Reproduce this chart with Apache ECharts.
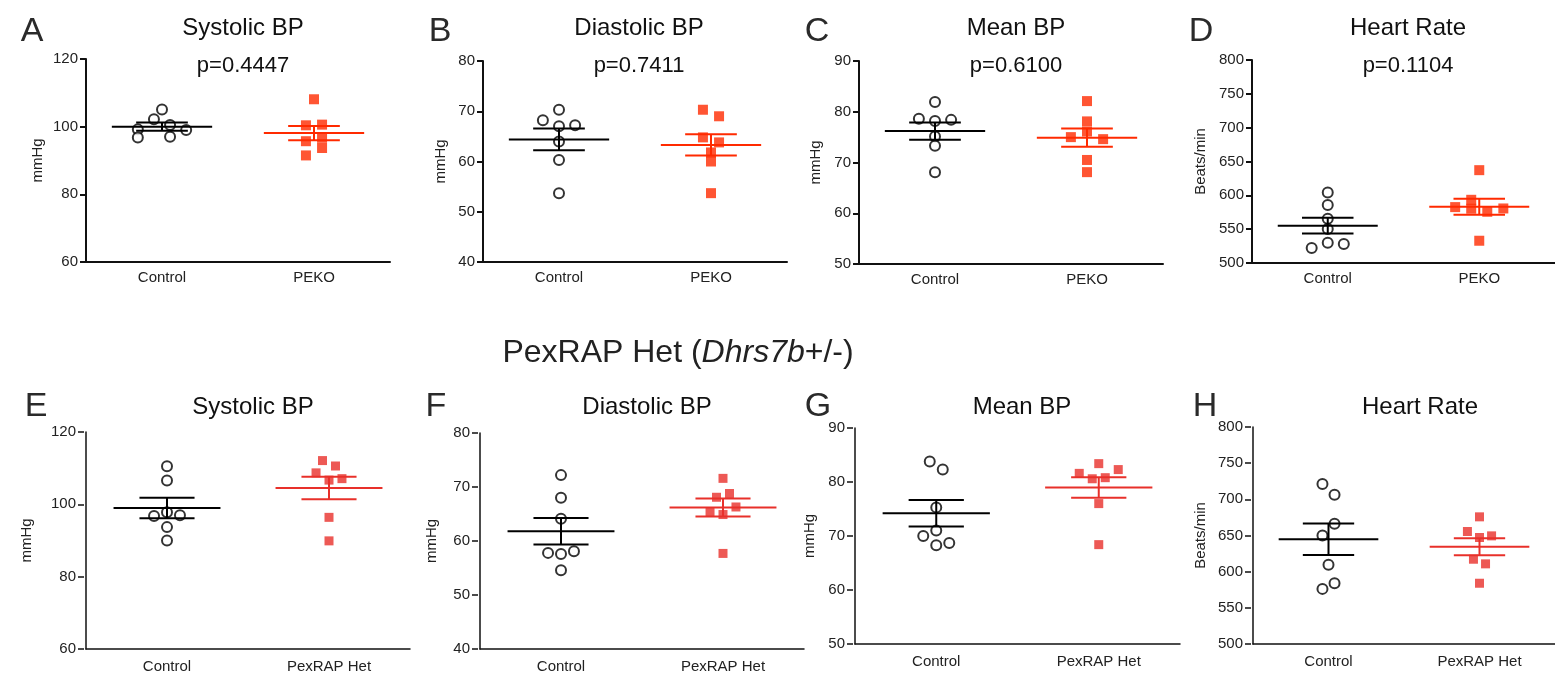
<!DOCTYPE html>
<html>
<head>
<meta charset="utf-8">
<title>Blood pressure - PEKO and PexRAP Het</title>
<script src="https://cdn.jsdelivr.net/npm/echarts@6/dist/echarts.min.js"></script>
<style>
  html, body { margin: 0; padding: 0; background: #fff; }
  #main { width: 1555px; height: 678px; }
</style>
</head>
<body>
<div id="main"></div>
<script>
  // x groups
  var topGroups = ['Control', 'PEKO'];
  var bottomGroups = ['Control', 'PexRAP Het'];

  // A - Systolic BP (PEKO)
  var ctrlA = [105.1, 102.2, 100.5, 99.2, 99.0, 96.8, 97.0];
  var koA = [108.1, 100.4, 100.6, 95.7, 96.7, 93.7, 91.5];
  var meanA = [100.0, 98.1];
  var semA = [1.2, 2.1];
  // B - Diastolic BP (PEKO)
  var ctrlB = [70.3, 68.2, 67.0, 67.2, 64.0, 60.3, 53.7];
  var koB = [70.3, 69.0, 64.8, 63.8, 61.8, 60.0, 53.7];
  var meanB = [64.4, 63.3];
  var semB = [2.15, 2.1];
  // C - Mean BP (PEKO)
  var ctrlC = [81.9, 78.6, 78.2, 78.4, 75.1, 73.3, 68.1];
  var koC = [82.1, 78.1, 76.1, 75.0, 74.6, 70.5, 68.1];
  var meanC = [76.2, 74.9];
  var semC = [1.7, 1.8];
  // D - Heart rate (PEKO)
  var ctrlD = [604.3, 585.6, 565.4, 550.2, 530.0, 528.0, 522.1];
  var koD = [637.2, 593.4, 582.6, 580.2, 580.6, 575.7, 532.9];
  var meanD = [555.1, 583.2];
  var semD = [11.6, 11.8];
  // E - Systolic BP (PexRAP Het)
  var ctrlE = [110.5, 106.6, 97.8, 96.8, 97.0, 93.7, 90.0];
  var hetE = [112.1, 110.6, 108.7, 106.7, 107.1, 96.4, 89.9];
  var meanE = [99.0, 104.5];
  var semE = [2.85, 3.1];
  // F - Diastolic BP (PexRAP Het)
  var ctrlF = [72.2, 68.0, 64.1, 57.8, 57.6, 58.1, 54.6];
  var hetF = [71.6, 68.8, 68.1, 66.3, 65.4, 64.9, 57.7];
  var meanF = [61.8, 66.2];
  var semF = [2.45, 1.65];
  // G - Mean BP (PexRAP Het)
  var ctrlG = [83.8, 82.3, 75.3, 71.0, 70.0, 68.3, 68.7];
  var hetG = [83.4, 82.3, 81.6, 80.6, 80.8, 76.0, 68.4];
  var meanG = [74.2, 79.0];
  var semG = [2.45, 1.9];
  // H - Heart rate (PexRAP Het)
  var ctrlH = [721.1, 706.3, 666.2, 650.0, 609.4, 584.0, 576.2];
  var hetH = [675.8, 655.5, 647.2, 649.5, 617.2, 610.8, 584.0];
  var meanH = [644.9, 634.3];
  var semH = [21.7, 11.75];

  // sideways jitter slot of each dot (scatter-dot-plot style)
  var jitCtrlA = [0, -1, 1, -3, 3, -3, 1];
  var jitKoA = [0, -1, 1, -1, 1, 1, -1];
  var jitCtrlB = [0, -2, 0, 2, 0, 0, 0];
  var jitKoB = [-1, 1, -1, 1, 0, 0, 0];
  var jitCtrlC = [0, -2, 0, 2, 0, 0, 0];
  var jitKoC = [0, 0, 0, -2, 2, 0, 0];
  var jitCtrlD = [0, 0, 0, 0, 0, 2, -2];
  var jitKoD = [0, -1, -3, -1, 3, 1, 0];
  var jitCtrlE = [0, 0, 0, -2, 2, 0, 0];
  var jitHetE = [-1, 1, -2, 0, 2, 0, 0];
  var jitCtrlF = [0, 0, 0, -2, 0, 2, 0];
  var jitHetF = [0, 1, -1, 2, -2, 0, 0];
  var jitCtrlG = [-1, 1, 0, 0, -2, 0, 2];
  var jitHetG = [0, 3, -3, -1, 1, 0, 0];
  var jitCtrlH = [-1, 1, 1, -1, 0, 1, -1];
  var jitHetH = [0, -2, 0, 2, -1, 1, 0];

  var FONT = '"Liberation Sans", Arial, sans-serif';

  var panels = [
    {letter: 'A', title: 'Systolic BP', p: 'p=0.4447', unit: 'mmHg', groups: topGroups, ctrl: ctrlA, test: koA, jc: jitCtrlA, jt: jitKoA, mean: meanA, sem: semA, min: 60, max: 120, step: 20},
    {letter: 'B', title: 'Diastolic BP', p: 'p=0.7411', unit: 'mmHg', groups: topGroups, ctrl: ctrlB, test: koB, jc: jitCtrlB, jt: jitKoB, mean: meanB, sem: semB, min: 40, max: 80, step: 10},
    {letter: 'C', title: 'Mean BP', p: 'p=0.6100', unit: 'mmHg', groups: topGroups, ctrl: ctrlC, test: koC, jc: jitCtrlC, jt: jitKoC, mean: meanC, sem: semC, min: 50, max: 90, step: 10},
    {letter: 'D', title: 'Heart Rate', p: 'p=0.1104', unit: 'Beats/min', groups: topGroups, ctrl: ctrlD, test: koD, jc: jitCtrlD, jt: jitKoD, mean: meanD, sem: semD, min: 500, max: 800, step: 50},
    {letter: 'E', title: 'Systolic BP', p: '', unit: 'mmHg', groups: bottomGroups, ctrl: ctrlE, test: hetE, jc: jitCtrlE, jt: jitHetE, mean: meanE, sem: semE, min: 60, max: 120, step: 20},
    {letter: 'F', title: 'Diastolic BP', p: '', unit: 'mmHg', groups: bottomGroups, ctrl: ctrlF, test: hetF, jc: jitCtrlF, jt: jitHetF, mean: meanF, sem: semF, min: 40, max: 80, step: 10},
    {letter: 'G', title: 'Mean BP', p: '', unit: 'mmHg', groups: bottomGroups, ctrl: ctrlG, test: hetG, jc: jitCtrlG, jt: jitHetG, mean: meanG, sem: semG, min: 50, max: 90, step: 10},
    {letter: 'H', title: 'Heart Rate', p: '', unit: 'Beats/min', groups: bottomGroups, ctrl: ctrlH, test: hetH, jc: jitCtrlH, jt: jitHetH, mean: meanH, sem: semH, min: 500, max: 800, step: 50}
  ];

  // plot boxes [left, top, width, height], name gap, letter x, title x
  var layout = [
    {box: [86, 59, 304, 203], gap: 41, lx: 27, tx: 238},
    {box: [483, 61, 304, 201], gap: 35, lx: 435, tx: 634},
    {box: [859, 61, 304, 203], gap: 36, lx: 812, tx: 1011},
    {box: [1252, 60, 304, 203], gap: 44, lx: 1196, tx: 1403},
    {box: [86, 432, 324, 217], gap: 52, lx: 31, tx: 248},
    {box: [480, 433, 324, 216], gap: 41, lx: 431, tx: 642},
    {box: [855, 428, 325, 216], gap: 38, lx: 813, tx: 1017},
    {box: [1253, 427, 324, 217], gap: 45, lx: 1200, tx: 1415}
  ];

  function initChart() {
    var myChart = echarts.init(document.getElementById('main'));
    myChart.setOption(getChartOption());
  }

  function getChartOption() {
    var grids = [], xAxes = [], yAxes = [], series = [], titles = [];

    panels.forEach(function (pn, i) {
      var lay = layout[i];
      var bottom = i >= 4;
      var red = bottom ? '#e8302a' : '#ff2a00';
      var step = bottom ? 0.04 : 0.053;
      var tickStyle = bottom ? {color: '#111', width: 1.5, type: [0, 2, 6, 30]} : {color: '#111', width: 2};

      grids.push({left: lay.box[0], top: lay.box[1], width: lay.box[2], height: lay.box[3], containLabel: false});

      // category axis for labels and ticks
      xAxes.push({
        type: 'category', gridIndex: i, data: pn.groups, boundaryGap: true,
        axisLine: {lineStyle: {color: '#111', width: bottom ? 1.5 : 2}},
        axisTick: {alignWithLabel: true, length: bottom ? 8 : 6, lineStyle: tickStyle},
        axisLabel: {color: '#222', fontSize: 15, fontFamily: FONT, margin: bottom ? 10 : 8}
      });
      // hidden value axis that places the dots (group 1 and 2)
      xAxes.push({type: 'value', gridIndex: i, min: 0.5, max: 2.5, show: false});

      yAxes.push({
        type: 'value', gridIndex: i, min: pn.min, max: pn.max, interval: pn.step,
        name: pn.unit, nameLocation: 'middle', nameGap: lay.gap,
        nameTextStyle: {color: '#222', fontSize: 15, fontFamily: FONT},
        axisLine: {show: true, lineStyle: {color: '#111', width: bottom ? 1.5 : 2}},
        axisTick: {show: true, length: bottom ? 8 : 6, lineStyle: tickStyle},
        axisLabel: {color: '#222', fontSize: 15, fontFamily: FONT, margin: bottom ? 10 : 8},
        splitLine: {show: false}
      });

      var ctrlPts = pn.ctrl.map(function (v, k) { return [1 + pn.jc[k] * step, v]; });
      var testPts = pn.test.map(function (v, k) { return [2 + pn.jt[k] * step, v]; });

      series.push({
        type: 'scatter', xAxisIndex: 2 * i + 1, yAxisIndex: i,
        symbol: 'circle', symbolSize: 10, data: ctrlPts, z: 2,
        itemStyle: {color: '#fff', borderColor: '#000', borderWidth: 2}
      });
      series.push({
        type: 'scatter', xAxisIndex: 2 * i + 1, yAxisIndex: i,
        symbol: 'rect', symbolSize: bottom ? 9 : 10, data: testPts, z: 2,
        itemStyle: {color: red}
      });

      // mean line with SEM whiskers
      series.push({
        type: 'custom', xAxisIndex: 2 * i + 1, yAxisIndex: i, z: 3,
        data: [[1, pn.mean[0], pn.sem[0], 0], [2, pn.mean[1], pn.sem[1], 1]],
        renderItem: function (params, api) {
          var x = api.value(0), m = api.value(1), s = api.value(2);
          var col = api.value(3) === 0 ? '#000' : red;
          var pm0 = api.coord([x - 0.33, m]), pm1 = api.coord([x + 0.33, m]);
          var hi0 = api.coord([x - 0.17, m + s]), hi1 = api.coord([x + 0.17, m + s]);
          var lo0 = api.coord([x - 0.17, m - s]), lo1 = api.coord([x + 0.17, m - s]);
          var st = {stroke: col, lineWidth: 2};
          return {
            type: 'group',
            children: [
              {type: 'line', shape: {x1: pm0[0], y1: pm0[1], x2: pm1[0], y2: pm1[1]}, style: st},
              {type: 'line', shape: {x1: hi0[0], y1: hi0[1], x2: hi1[0], y2: hi1[1]}, style: st},
              {type: 'line', shape: {x1: lo0[0], y1: lo0[1], x2: lo1[0], y2: lo1[1]}, style: st},
              {type: 'line', shape: {x1: (hi0[0] + hi1[0]) / 2, y1: hi0[1], x2: (lo0[0] + lo1[0]) / 2, y2: lo0[1]}, style: st}
            ]
          };
        }
      });

      var rowY = bottom ? 402 : 23;
      var letterY = bottom ? 402 : 27;
      titles.push({
        text: pn.letter, left: lay.lx, top: letterY - 17, textAlign: 'center',
        textStyle: {fontSize: 34, fontWeight: 'normal', color: '#2a2a2a', fontFamily: FONT}
      });
      titles.push({
        text: pn.title, left: lay.tx, top: rowY - 12, textAlign: 'center',
        textStyle: {fontSize: 24, fontWeight: 'normal', color: '#111', fontFamily: FONT}
      });
      if (pn.p) {
        titles.push({
          text: pn.p, left: lay.tx, top: 50, textAlign: 'center',
          textStyle: {fontSize: 22, fontWeight: 'normal', color: '#111', fontFamily: FONT}
        });
      }
    });

    // heading between the rows
    titles.push({
      text: 'PexRAP Het ({i|Dhrs7b}+/-)', left: 673, top: 332, textAlign: 'center',
      textStyle: {
        fontSize: 32, fontWeight: 'normal', color: '#222', fontFamily: FONT,
        rich: {i: {fontSize: 32, fontStyle: 'italic', color: '#222', fontFamily: FONT}}
      }
    });

    return {
      backgroundColor: '#fff',
      animation: false,
      title: titles,
      grid: grids,
      xAxis: xAxes,
      yAxis: yAxes,
      series: series
    };
  }

  initChart();
</script>
</body>
</html>
